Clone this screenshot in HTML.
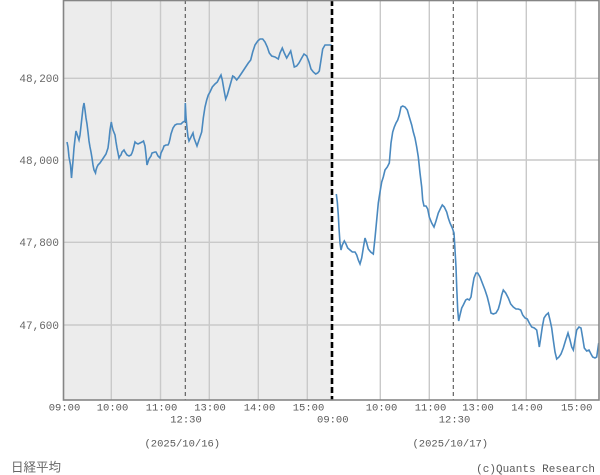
<!DOCTYPE html>
<html><head><meta charset="utf-8"><style>
html,body{margin:0;padding:0;background:#fff;}
svg{display:block;}
text{font-family:"Liberation Mono","Noto Sans CJK JP",monospace;}
</style></head><body>
<svg width="600" height="475" xmlns="http://www.w3.org/2000/svg">
<rect x="0" y="0" width="600" height="475" fill="#fff"/>
<rect x="63" y="0" width="269" height="400" fill="#ececec"/>
<g stroke="#c9c9c9" stroke-width="1.4">
<line x1="63" y1="78.3" x2="599" y2="78.3"/>
<line x1="63" y1="160" x2="599" y2="160"/>
<line x1="63" y1="242.3" x2="599" y2="242.3"/>
<line x1="63" y1="325" x2="599" y2="325"/>
<line x1="111.3" y1="0" x2="111.3" y2="400"/>
<line x1="160.5" y1="0" x2="160.5" y2="400"/>
<line x1="209.3" y1="0" x2="209.3" y2="400"/>
<line x1="258.3" y1="0" x2="258.3" y2="400"/>
<line x1="307.3" y1="0" x2="307.3" y2="400"/>
<line x1="380.3" y1="0" x2="380.3" y2="400"/>
<line x1="429.3" y1="0" x2="429.3" y2="400"/>
<line x1="477.3" y1="0" x2="477.3" y2="400"/>
<line x1="526.3" y1="0" x2="526.3" y2="400"/>
<line x1="575.5" y1="0" x2="575.5" y2="400"/>
</g>
<g stroke="#555" stroke-width="1.1" stroke-dasharray="4,3">
<line x1="185.3" y1="0" x2="185.3" y2="400"/>
<line x1="453.3" y1="0" x2="453.3" y2="400"/>
</g>
<g fill="none" stroke="#4a89bf" stroke-width="1.6" stroke-linejoin="miter">
<polyline points="67,142 68,147 69,157 70.5,165 71.5,178 72,172 73,161 74,148 75,139 76,131 77,134 78,137 79,140 80,135 81,126 82,117 83,108 84,103 85,110 86,118 87,124 88,132 89,141 90,147 91,152 92,158 93,165 94,170 95.5,173 96,170 97,167 98,165 100,163 102,160 104,157 106,154 108,148 109,140 110,130 111.3,122 112,126 113,130 115,135 116,142 117,148 118,153 119,158 120,156 121,155 122,152 124,150 125,152 127,155 129,156 131,155 132,153 133,150 134,146 135,142 136,143 138,144 140,143 142,142 143.5,141 145,146 146,155 147,165 148,162 149,159 151,156 152,153 155,152 156,152 157,154 158,156 160,158 161,153 163,149 164,146 166,145 168,145 169,143 170,139 171,134 172,131 173,128 175,125 177,124 179,124 181,124 183,122 185,121 185.3,103 186,117 187,128 188,137 189,141 191,137 193,133 194,138 197,146 199,140 201.7,132 203.3,118 205,107 206.7,100 208.3,95 210,92 212.3,87 215,84 217.3,82 219.3,78 221,75 222.3,80 224,90 225.7,99 227.3,95 229.3,88 231,82 232.7,76 234.3,77 236.7,80 239,77 241.7,73 245,68 248.3,63 250.7,60 252.7,52 255,45 257.7,41 260,39 262.7,39 265,42 267.3,47 269.3,53 271.7,56 275,57 278.3,59 280,53 282.3,48 284.3,53 286.7,58 289,54 290.7,51 292.3,58 294.3,67 296.7,66 299,63 301.7,58 304,54 306.7,56 309,62 311,69 313.3,72 315.7,74 317.7,73 319.3,71 320.7,62 322.7,49 325,45 328.3,45 331.5,45"/>
<polyline points="336.3,194 337.3,202 338.3,215 339,228 340,243 341,250 342.3,245 344.3,241 346,244 347.7,248 350,250 352.3,252 355,252 356.7,255 358.3,260 360,264 361.7,258 363.3,248 365,238 366.7,243 368.3,249 370.7,252 373.3,254 375,238 376.7,220 378.3,203 380,192 381.7,182 383.3,177 385,170 387.3,167 389.3,163 391,143 392.7,132 394.3,127 396,123 397.7,120 399.3,115 401,107 402.7,106 405,107 407.3,110 409.3,117 411.7,125 413.3,132 415,138 416.7,147 418.3,157 420,173 421.7,187 422.7,200 424,206 426,206 427.7,209 429.3,217 431.7,223 434,227 436,221 438.3,213 440.7,208 442.3,205 444.3,207 446.7,212 448.3,218 450,223 452.3,228 454,233 455,250 456,267 456.7,287 457.7,310 458.7,321 460,315 461.7,308 463.3,305 465.7,300 467.3,299 469.3,300 471,297 472.3,288 474,278 476,273 477.7,273 480,277 482.3,283 485,290 487.3,297 489.3,305 491,313 493.3,314 496,313 498.3,309 500,303 501.7,295 503.3,290 505.7,293 508.3,298 510.7,304 513.3,307 516,309 518.3,309 520.7,310 522.7,315 525,318 527.3,319 529.3,323 531.7,327 534.3,328 536.7,330 538.3,340 539.3,347 540.7,338 542.3,327 544,318 546,315 548.3,313 550,320 551.7,328 553.3,340 555,352 556.7,359 559,357 561,354 563.3,348 565.7,340 568,333 570,340 571.7,347 573.3,350 575,340 576.7,330 579,327 581,328 582.7,338 584.3,348 586.7,351 589,350 591,354 592.7,357 595,358 596.7,357 597.7,350 598.7,343"/>
</g>
<line x1="332" y1="0" x2="332" y2="400" stroke="#000" stroke-width="2.6" stroke-dasharray="6,3"/>
<rect x="63.5" y="0.5" width="535.5" height="399.5" fill="none" stroke="#858585" stroke-width="1.6"/>
<g font-size="11" fill="#666" text-anchor="end">
<text x="59" y="82">48,200</text>
<text x="59" y="164">48,000</text>
<text x="59" y="246">47,800</text>
<text x="59" y="329">47,600</text>
</g>
<g font-size="10.5" fill="#5a5a5a" text-anchor="middle">
<text x="64.5" y="410.5">09:00</text>
<text x="112.5" y="410.5">10:00</text>
<text x="161.5" y="410.5">11:00</text>
<text x="210" y="410.5">13:00</text>
<text x="259.5" y="410.5">14:00</text>
<text x="308.5" y="410.5">15:00</text>
<text x="186" y="422.5">12:30</text>
<text x="332.8" y="422.5">09:00</text>
<text x="381.5" y="410.5">10:00</text>
<text x="430.5" y="410.5">11:00</text>
<text x="478" y="410.5">13:00</text>
<text x="527" y="410.5">14:00</text>
<text x="576.7" y="410.5">15:00</text>
<text x="454.5" y="422.5">12:30</text>
<text x="182.3" y="446.5">(2025/10/16)</text>
<text x="450.3" y="446.5">(2025/10/17)</text>
</g>
<text x="11" y="471.5" font-size="12.5" fill="#666" style="font-family:'Noto Sans CJK JP',sans-serif">日経平均</text>
<text x="595" y="472" font-size="11" fill="#5a5a5a" text-anchor="end">(c)Quants Research</text>
</svg>
</body></html>
